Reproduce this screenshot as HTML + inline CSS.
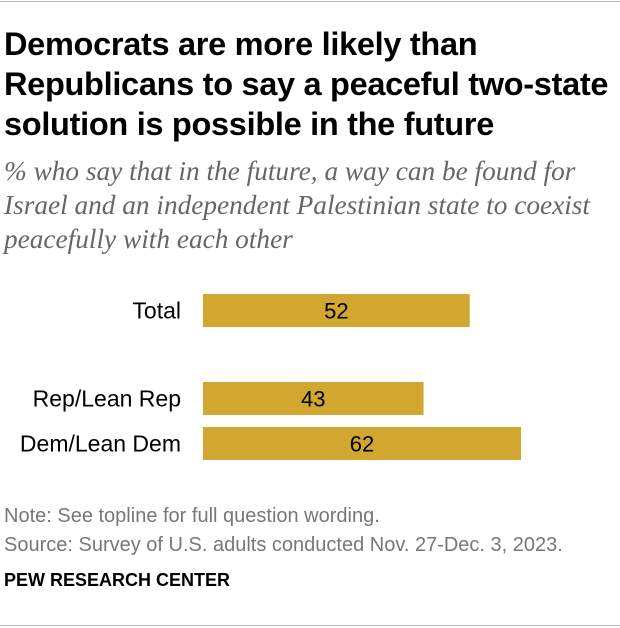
<!DOCTYPE html>
<html><head><meta charset="utf-8">
<style>
body{margin:0;width:620px;height:628px;background:#fff;position:relative;font-family:"Liberation Sans",sans-serif;overflow:hidden}
.t{position:absolute;left:4px;top:24px;font-weight:bold;font-size:32.5px;line-height:40px;color:#000;letter-spacing:-0.3px;white-space:nowrap}
.s{position:absolute;left:4px;top:154px;font-family:"Liberation Serif",serif;font-style:italic;font-size:27.3px;line-height:34px;color:#666;white-space:nowrap}
.n{position:absolute;left:4px;font-size:20px;color:#777;white-space:nowrap}
.hr{position:absolute;left:0;width:620px;height:1px;background:#bbb}
</style></head><body>
<div class="hr" style="top:1px"></div>
<div class="t">Democrats are more likely than<br>Republicans to say a peaceful two-state<br>solution is possible in the future</div>
<div class="s">% who say that in the future, a way can be found for<br>Israel and an independent Palestinian state to coexist<br>peacefully with each other</div>
<svg id="c" width="620" height="628" style="position:absolute;left:0;top:0"></svg>
<div class="n" style="top:505px">Note: See topline for full question wording.</div>
<div class="n" style="top:534px">Source: Survey of U.S. adults conducted Nov. 27-Dec. 3, 2023.</div>
<div class="n" style="top:570px;font-size:18px;font-weight:bold;color:#000">PEW RESEARCH CENTER</div>
<div class="hr" style="top:625px"></div>
<script>
const categories=["Total","Rep/Lean Rep","Dem/Lean Dem"];
const values=[52,43,62];
const rowY=[294,382,427];
const x0=203, scale=318/62, bh=33;
const svg=document.getElementById('c');
const NS='http://www.w3.org/2000/svg';
function xs(v){return v*scale;}
categories.forEach((c,i)=>{
  const r=document.createElementNS(NS,'rect');
  
  
  r.setAttribute('x',x0);r.setAttribute('y',rowY[i]);
  r.setAttribute('width',xs(values[i]));r.setAttribute('height',bh);
  r.setAttribute('fill','#D1A730');svg.appendChild(r);
  const l=document.createElementNS(NS,'text');
  
  
  l.setAttribute('x',181);l.setAttribute('y',rowY[i]+bh/2+8);
  l.setAttribute('text-anchor','end');l.setAttribute('font-size','23');
  l.setAttribute('font-family','Liberation Sans, sans-serif');
  l.textContent=c;svg.appendChild(l);
  const v=document.createElementNS(NS,'text');
  
  
  v.setAttribute('x',x0+xs(values[i])/2);v.setAttribute('y',rowY[i]+bh/2+8);
  v.setAttribute('text-anchor','middle');v.setAttribute('font-size','22');
  v.setAttribute('font-family','Liberation Sans, sans-serif');
  v.textContent=values[i];svg.appendChild(v);
});
</script>
</body></html>
